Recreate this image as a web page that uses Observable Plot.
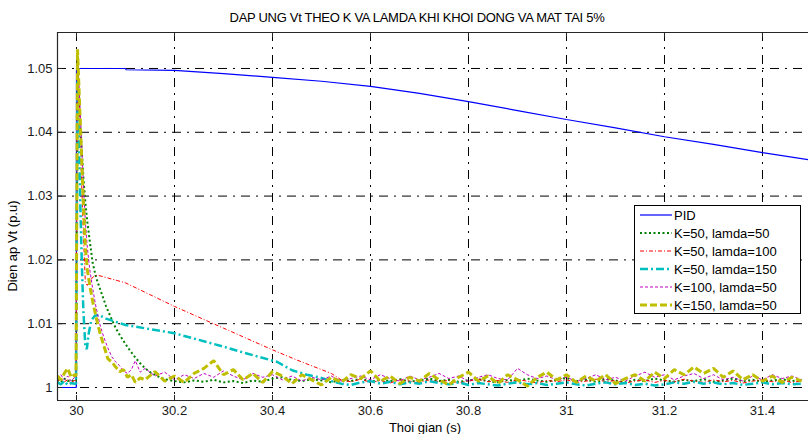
<!DOCTYPE html>
<html><head><meta charset="utf-8">
<script src="https://cdn.jsdelivr.net/npm/d3@7"></script>
<script src="https://cdn.jsdelivr.net/npm/@observablehq/plot@0.6"></script>
<style>
body{margin:0;background:#fff;font-family:"Liberation Sans",Arial,sans-serif;}
#chart{width:808px;height:434px;}
</style></head><body><div id="chart"></div>
<script>
// ---------- DATA ----------
const chartTitle = "DAP UNG Vt THEO K VA LAMDA KHI KHOI DONG VA MAT TAI 5%";
const xLabel = "Thoi gian (s)";
const yLabel = "Dien ap Vt (p.u)";
const xTicks = [30, 30.2, 30.4, 30.6, 30.8, 31, 31.2, 31.4];
const yTicks = [1, 1.01, 1.02, 1.03, 1.04, 1.05];
const seriesNames = ["PID", "K=50, lamda=50", "K=50, lamda=100", "K=50, lamda=150", "K=100, lamda=50", "K=150, lamda=50"];

// time instants before the step
const tPre = [29.9612, 29.968, 29.975, 29.982, 29.989, 29.996];
// common time grid for the settled (noisy) part
const tGrid = [30.14, 30.16, 30.18, 30.20, 30.22, 30.24, 30.26, 30.28, 30.30, 30.32, 30.34, 30.36, 30.38, 30.40, 30.42, 30.44, 30.46, 30.48, 30.50, 30.52, 30.54, 30.56, 30.58, 30.60, 30.62, 30.64, 30.66, 30.68, 30.70, 30.72, 30.74, 30.76, 30.78, 30.80, 30.82, 30.84, 30.86, 30.88, 30.90, 30.92, 30.94, 30.96, 30.98, 31.00, 31.02, 31.04, 31.06, 31.08, 31.10, 31.12, 31.14, 31.16, 31.18, 31.20, 31.22, 31.24, 31.26, 31.28, 31.30, 31.32, 31.34, 31.36, 31.38, 31.40, 31.42, 31.44, 31.46, 31.48];

// PID
const pidPoints = [[29.9612, 1.0], [29.9995, 1.0], [30.0, 1.05], [30.1, 1.05], [30.101, 1.0498], [30.2, 1.0497], [30.3, 1.0492], [30.4, 1.0486], [30.5, 1.048], [30.6, 1.0472], [30.7, 1.0461], [30.8, 1.0448], [30.9, 1.0434], [31.0, 1.042], [31.1, 1.0407], [31.2, 1.0393], [31.3, 1.0381], [31.4, 1.0368], [31.494, 1.0357]];

// K=50, lamda=50
const g_pre = [1.0012, 1.0008, 1.0014, 1.0010, 1.0012, 1.0009];
const g_tr = [[29.999, 1.0010], [30.002, 1.048], [30.006, 1.043], [30.01, 1.038], [30.014, 1.033], [30.018, 1.029], [30.022, 1.026], [30.027, 1.023], [30.033, 1.0195], [30.04, 1.0172], [30.05, 1.015], [30.06, 1.0128], [30.07, 1.011], [30.08, 1.0093], [30.09, 1.008], [30.10, 1.0068], [30.11, 1.0057], [30.12, 1.0047], [30.13, 1.0038], [30.14, 1.003], [30.15, 1.0024], [30.16, 1.002], [30.17, 1.0016], [30.18, 1.0013]];
const g_ss = [1.0010, 1.0008, 1.0011, 1.0009, 1.0012, 1.0008, 1.0010, 1.0007, 1.0011, 1.0009, 1.0014, 1.0016, 1.0012, 1.0010, 1.0013, 1.0011, 1.0008, 1.0012, 1.0010, 1.0014, 1.0009, 1.0012, 1.0010, 1.0013, 1.0009, 1.0011, 1.0014, 1.0010, 1.0012, 1.0009, 1.0011, 1.0013, 1.0010, 1.0008, 1.0012, 1.0010, 1.0014, 1.0011, 1.0009, 1.0012, 1.0015, 1.0010, 1.0012, 1.0009, 1.0013, 1.0011, 1.0008, 1.0012, 1.0010, 1.0014, 1.0011, 1.0009, 1.0012, 1.0010, 1.0013, 1.0009, 1.0011, 1.0014, 1.0010, 1.0012, 1.0009, 1.0011, 1.0013, 1.0010, 1.0012];

// K=50, lamda=100
const r_pre = [1.0010, 1.0014, 1.0009, 1.0012, 1.0008, 1.0011];
const r_tr = [[29.999, 1.0011], [30.002, 1.052], [30.006, 1.043], [30.01, 1.033], [30.014, 1.024], [30.018, 1.0165], [30.022, 1.016], [30.028, 1.0168], [30.035, 1.0174], [30.043, 1.0176], [30.1, 1.0164], [30.2, 1.0127], [30.3, 1.0093], [30.4, 1.0059], [30.45, 1.0043], [30.5, 1.0028], [30.52, 1.0022]];
const r_ss = [1.0012, 1.0009, 1.0013, 1.0008, 1.0011, 1.0007, 1.0012, 1.0010, 1.0008, 1.0012, 1.0009, 1.0011, 1.0007, 1.0010, 1.0013, 1.0009, 1.0011, 1.0008, 1.0012, 1.0010, 1.0007, 1.0011, 1.0009, 1.0012, 1.0008, 1.0010, 1.0013, 1.0009, 1.0011, 1.0007, 1.0010, 1.0012, 1.0008, 1.0011, 1.0009, 1.0013, 1.0010, 1.0008, 1.0012, 1.0009, 1.0011, 1.0007, 1.0010, 1.0012, 1.0009, 1.0011, 1.0008, 1.0010];

// K=50, lamda=150
const c_pre = [1.0008, 1.0005, 1.0010, 1.0004, 1.0007, 1.0006];
const c_tr = [[29.999, 1.0006], [30.002, 1.048], [30.005, 1.038], [30.008, 1.028], [30.011, 1.019], [30.014, 1.012], [30.018, 1.0065], [30.021, 1.006], [30.025, 1.0085], [30.03, 1.0105], [30.037, 1.0112], [30.045, 1.0114], [30.06, 1.0108], [30.1, 1.0098], [30.2, 1.0085], [30.3, 1.0064], [30.335, 1.0056], [30.41, 1.004], [30.44, 1.0027], [30.47, 1.002], [30.5, 1.0015]];
const c_ss = [1.0010, 1.0006, 1.0004, 1.0008, 1.0010, 1.0006, 1.0009, 1.0005, 1.0008, 1.0006, 1.0010, 1.0007, 1.0005, 1.0008, 1.0004, 1.0007, 1.0005, 1.0003, 1.0006, 1.0008, 1.0005, 1.0007, 1.0004, 1.0006, 1.0008, 1.0005, 1.0003, 1.0006, 1.0008, 1.0005, 1.0007, 1.0004, 1.0006, 1.0003, 1.0005, 1.0008, 1.0006, 1.0009, 1.0006, 1.0008, 1.0005, 1.0007, 1.0004, 1.0006, 1.0008, 1.0005, 1.0007, 1.0005, 1.0006];

// K=100, lamda=50
const m_pre = [1.0014, 1.0020, 1.0012, 1.0018, 1.0010, 1.0016];
const m_tr = [[29.999, 1.0016], [30.002, 1.052], [30.006, 1.046], [30.01, 1.039], [30.014, 1.032], [30.018, 1.026], [30.022, 1.022], [30.027, 1.0185], [30.033, 1.0155], [30.04, 1.0125], [30.048, 1.0098], [30.056, 1.0078], [30.064, 1.0062], [30.072, 1.0048], [30.08, 1.004], [30.088, 1.0034], [30.096, 1.0026], [30.104, 1.0022], [30.112, 1.0028], [30.12, 1.0042], [30.13, 1.0024]];
const m_ss = [1.0030, 1.0018, 1.0024, 1.0012, 1.0020, 1.0014, 1.0022, 1.0016, 1.0026, 1.0018, 1.0012, 1.0022, 1.0016, 1.0020, 1.0012, 1.0018, 1.0010, 1.0016, 1.0012, 1.0018, 1.0010, 1.0014, 1.0018, 1.0012, 1.0020, 1.0014, 1.0010, 1.0018, 1.0012, 1.0016, 1.0022, 1.0014, 1.0018, 1.0010, 1.0016, 1.0020, 1.0014, 1.0012, 1.0030, 1.0020, 1.0014, 1.0018, 1.0012, 1.0016, 1.0010, 1.0014, 1.0020, 1.0012, 1.0016, 1.0010, 1.0018, 1.0024, 1.0016, 1.0020, 1.0012, 1.0018, 1.0022, 1.0014, 1.0020, 1.0012, 1.0016, 1.0010, 1.0018, 1.0012, 1.0020, 1.0014, 1.0018, 1.0012];

// K=150, lamda=50
const y_pre = [1.0018, 1.0012, 1.0022, 1.0030, 1.0016, 1.0020];
const y_tr = [[29.999, 1.0018], [30.002, 1.053], [30.006, 1.045], [30.01, 1.037], [30.014, 1.029], [30.018, 1.022], [30.022, 1.0185], [30.027, 1.016], [30.033, 1.0135], [30.04, 1.011], [30.048, 1.0085], [30.056, 1.0065], [30.064, 1.0045], [30.072, 1.004], [30.08, 1.0032], [30.088, 1.0025], [30.096, 1.0028], [30.104, 1.0016], [30.112, 1.002], [30.12, 1.0008], [30.13, 1.0015]];
const y_ss = [1.0012, 1.0025, 1.0010, 1.0018, 1.0008, 1.0022, 1.0030, 1.0042, 1.0020, 1.0028, 1.0012, 1.0022, 1.0008, 1.0025, 1.0018, 1.0006, 1.0020, 1.0012, 1.0004, 1.0016, 1.0008, 1.0020, 1.0014, 1.0026, 1.0010, 1.0018, 1.0006, 1.0016, 1.0010, 1.0022, 1.0012, 1.0004, 1.0016, 1.0024, 1.0010, 1.0018, 1.0006, 1.0020, 1.0012, 1.0002, 1.0016, 1.0024, 1.0012, 1.0020, 1.0008, 1.0018, 1.0010, 1.0020, 1.0006, 1.0014, 1.0020, 1.0010, 1.0024, 1.0014, 1.0028, 1.0020, 1.0032, 1.0022, 1.0030, 1.0016, 1.0026, 1.0012, 1.0020, 1.0010, 1.0018, 1.0008, 1.0016, 1.0010];

// ---------- STYLES ----------
const styles = [
  {stroke: "#0000ff", strokeWidth: 1.2, dash: null},
  {stroke: "#008000", strokeWidth: 2, dash: "2,2.5"},
  {stroke: "#ff0000", strokeWidth: 1, dash: "4,2,1,2"},
  {stroke: "#00bfbf", strokeWidth: 2.5, dash: "8,3,2,3"},
  {stroke: "#bf00bf", strokeWidth: 1, dash: "3,2"},
  {stroke: "#bfbf00", strokeWidth: 3, dash: "7,3"}
];

// ---------- BUILD ----------
function build(pre, tr, ss) {
  const a = pre.map((v, i) => ({t: tPre[i], v}));
  tr.forEach(([t, v]) => a.push({t, v}));
  const off = tGrid.length - ss.length;
  ss.forEach((v, i) => a.push({t: tGrid[off + i], v}));
  return a;
}
const seriesData = [
  pidPoints.map(([t, v]) => ({t, v})),
  build(g_pre, g_tr, g_ss),
  build(r_pre, r_tr, r_ss),
  build(c_pre, c_tr, c_ss),
  build(m_pre, m_tr, m_ss),
  build(y_pre, y_tr, y_ss)
];

const W = 808, H = 434, ML = 57, MR = 0, MT = 32, MB = 34;
const plotW = W - ML - MR, plotH = H - MT - MB;
const X_DOMAIN = [29.9612, 31.4939], Y_DOMAIN = [0.99796, 1.05564];
const gridDash = "9,6,2,6";
const frameColor = "#262626";
const fmt = d => String(+d.toFixed(2));

const marks = [
  Plot.ruleX(xTicks, {stroke: "#000", strokeWidth: 1, strokeDasharray: gridDash}),
  Plot.ruleY(yTicks, {stroke: "#000", strokeWidth: 1, strokeDasharray: gridDash}),
  ...seriesData.map((d, i) => Plot.line(d, {
    x: "t", y: "v", stroke: styles[i].stroke, strokeWidth: styles[i].strokeWidth,
    strokeDasharray: styles[i].dash, strokeLinecap: "butt", strokeLinejoin: "miter", clip: true
  })),
  // inward ticks
  Plot.ruleX(xTicks, {insetTop: plotH - 5, stroke: frameColor}),
  Plot.ruleX(xTicks, {insetBottom: plotH - 5, stroke: frameColor}),
  Plot.ruleY(yTicks, {insetRight: plotW - 5, stroke: frameColor}),
  // frame (left, bottom, top)
  Plot.ruleX([X_DOMAIN[0]], {stroke: frameColor, strokeWidth: 1.2}),
  Plot.ruleY([Y_DOMAIN[0]], {stroke: frameColor, strokeWidth: 1.2}),
  Plot.ruleY([Y_DOMAIN[1]], {stroke: frameColor, strokeWidth: 1.2}),
  Plot.axisX(xTicks, {tickSize: 0, tickPadding: 5, label: null, fontSize: 13, tickFormat: fmt}),
  Plot.axisY(yTicks, {tickSize: 0, tickPadding: 5, label: null, fontSize: 13, tickFormat: fmt})
];

const plot = Plot.plot({
  width: W, height: H,
  marginLeft: ML, marginRight: MR, marginTop: MT, marginBottom: MB,
  x: {domain: X_DOMAIN},
  y: {domain: Y_DOMAIN},
  style: {fontFamily: "'Liberation Sans', Arial, sans-serif", fontSize: "12px", background: "#fff", color: "#1a1a1a"},
  marks
});

const svg = d3.select(plot);
svg.append("text").attr("x", 417).attr("y", 22).attr("text-anchor", "middle")
  .attr("font-size", 13).attr("letter-spacing", "-0.3px").attr("fill", "#000").text(chartTitle);
svg.append("text").attr("x", 425).attr("y", 432).attr("text-anchor", "middle")
  .attr("font-size", 13).attr("fill", "#000").text(xLabel);
svg.append("text").attr("transform", "translate(17,246) rotate(-90)").attr("text-anchor", "middle")
  .attr("font-size", 13).attr("fill", "#000").text(yLabel);

// legend
const lg = svg.append("g").attr("text-anchor", "start");
lg.append("rect").attr("x", 634.5).attr("y", 205.5).attr("width", 166).attr("height", 108)
  .attr("fill", "#fff").attr("stroke", "#000").attr("stroke-width", 1);
seriesNames.forEach((name, i) => {
  const y = 215 + i * 18;
  const s = styles[i];
  lg.append("line").attr("x1", 640).attr("x2", 672).attr("y1", y).attr("y2", y)
    .attr("stroke", s.stroke).attr("stroke-width", s.strokeWidth)
    .attr("stroke-dasharray", s.dash).attr("stroke-linecap", "butt");
  lg.append("text").attr("x", 674).attr("y", y).attr("dy", "0.36em").attr("text-anchor", "start")
    .attr("font-size", 13).attr("fill", "#000").text(name);
});

document.getElementById("chart").appendChild(plot);
</script></body></html>
